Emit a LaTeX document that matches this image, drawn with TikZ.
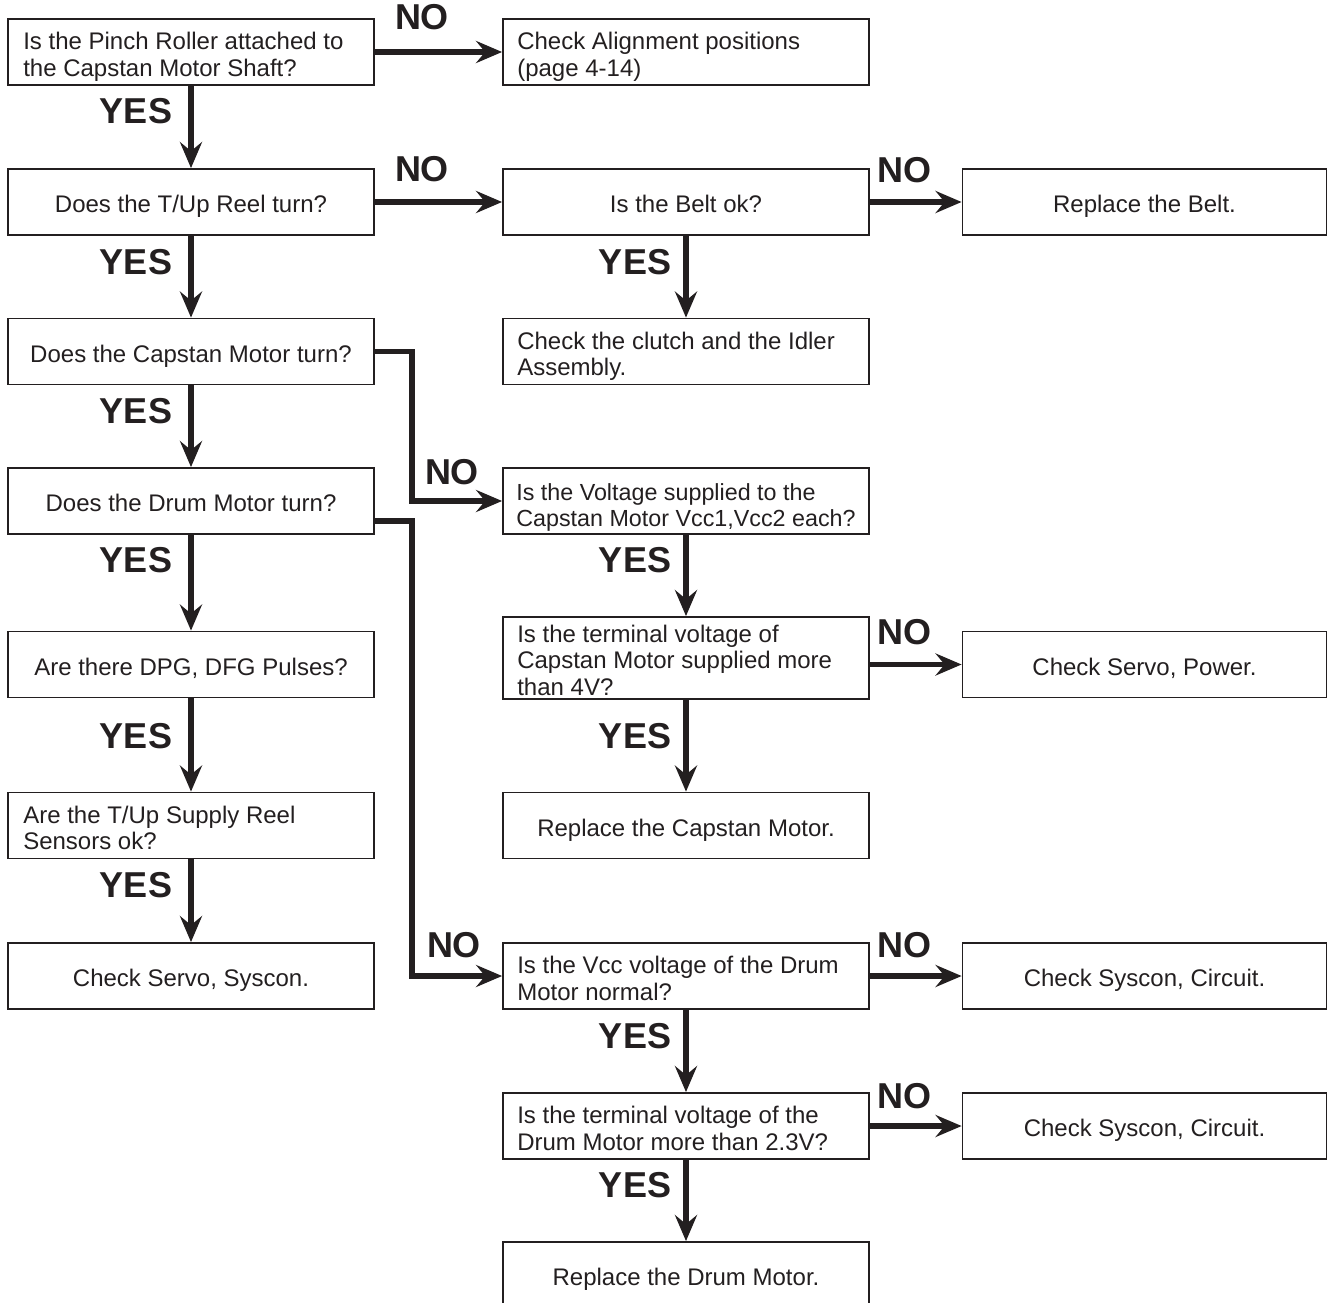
\documentclass[tikz,border=0pt]{standalone}
\usepackage{fontspec}
\setmainfont{Liberation Sans}
\usetikzlibrary{arrows.meta}
\definecolor{ink}{RGB}{35,31,32}
\begin{document}
\begin{tikzpicture}[x=1pt,y=-1pt,
  box/.style={draw=ink, line width=1.8pt, rectangle, minimum width=366pt, minimum height=66pt, inner sep=0pt},
  farbox/.style={box, minimum width=364pt},
  txt/.style={text=ink, inner sep=0pt, font=\fontsize{24}{26.5}\selectfont},
  lbl/.style={text=ink, inner sep=0pt, font=\fontsize{36}{36}\selectfont\bfseries},
  arr/.style={draw=ink, line width=5.5pt, line join=miter, -{Stealth[length=26pt,width=22pt,inset=9pt]}}]
\useasboundingbox (0,0) rectangle (1328,1302);
% left column
\node[box] (L1) at (191,52) {};
\node[box] (L2) at (191,202) {};
\node[box] (L3) at (191,351.5) {};
\node[box] (L4) at (191,501) {};
\node[box] (L5) at (191,664.5) {};
\node[box] (L6) at (191,825.5) {};
\node[box] (L7) at (191,976) {};
% right column
\node[box] (R1) at (686,52) {};
\node[box] (R2) at (686,202) {};
\node[box] (R3) at (686,351.5) {};
\node[box] (R4) at (686,501) {};
\node[box, minimum height=82pt] (R5) at (686,658) {};
\node[box] (R6) at (686,825.5) {};
\node[box] (R7) at (686,976) {};
\node[box] (R8) at (686,1126) {};
\node[box] (R9) at (686,1275) {};
% far right column
\node[farbox] (F2) at (1144.5,202) {};
\node[farbox] (F5) at (1144.5,664.5) {};
\node[farbox] (F7) at (1144.5,976) {};
\node[farbox] (F8) at (1144.5,1126) {};
% texts
\node[txt, anchor=base west] (L1t) at ([xshift=16pt,yshift=2.5pt]L1.west) {\parbox[t]{400pt}{Is the Pinch Roller attached to\\the Capstan Motor Shaft?}};
\node[txt, anchor=base] (L2t) at ([yshift=-10.5pt]L2.center) {Does the T/Up Reel turn?};
\node[txt, anchor=base] (L3t) at ([yshift=-10.5pt]L3.center) {Does the Capstan Motor turn?};
\node[txt, anchor=base] (L4t) at ([yshift=-10.5pt]L4.center) {Does the Drum Motor turn?};
\node[txt, anchor=base] (L5t) at ([yshift=-10.5pt]L5.center) {Are there DPG, DFG Pulses?};
\node[txt, anchor=base west] (L6t) at ([xshift=16pt,yshift=2.5pt]L6.west) {\parbox[t]{400pt}{Are the T/Up Supply Reel\\Sensors ok?}};
\node[txt, anchor=base] (L7t) at ([yshift=-10.5pt]L7.center) {Check Servo, Syscon.};
\node[txt, anchor=base west] (R1t) at ([xshift=15pt,yshift=2.5pt]R1.west) {\parbox[t]{400pt}{Check Alignment positions\\(page 4-14)}};
\node[txt, anchor=base] (R2t) at ([yshift=-10.5pt]R2.center) {Is the Belt ok?};
\node[txt, anchor=base west] (R3t) at ([xshift=15pt,yshift=2.5pt]R3.west) {\parbox[t]{400pt}{Check the clutch and the Idler\\Assembly.}};
\node[txt, anchor=base west, font=\fontsize{23.3}{26.5}\selectfont] (R4t) at ([xshift=14pt,yshift=1pt]R4.west) {\parbox[t]{400pt}{Is the Voltage supplied to the\\Capstan Motor Vcc1,Vcc2 each?}};
\node[txt, anchor=base west] (R5t) at ([xshift=15pt,yshift=16pt]R5.west) {\parbox[t]{400pt}{Is the terminal voltage of\\Capstan Motor supplied more\\than 4V?}};
\node[txt, anchor=base] (R6t) at ([yshift=-10.5pt]R6.center) {Replace the Capstan Motor.};
\node[txt, anchor=base west] (R7t) at ([xshift=15pt,yshift=2.5pt]R7.west) {\parbox[t]{400pt}{Is the Vcc voltage of the Drum\\Motor normal?}};
\node[txt, anchor=base west] (R8t) at ([xshift=15pt,yshift=2.5pt]R8.west) {\parbox[t]{400pt}{Is the terminal voltage of the\\Drum Motor more than 2.3V?}};
\node[txt, anchor=base] (R9t) at ([yshift=-10.5pt]R9.center) {Replace the Drum Motor.};
\node[txt, anchor=base] (F2t) at ([yshift=-10.5pt]F2.center) {Replace the Belt.};
\node[txt, anchor=base] (F5t) at ([yshift=-10.5pt]F5.center) {Check Servo, Power.};
\node[txt, anchor=base] (F7t) at ([yshift=-10.5pt]F7.center) {Check Syscon, Circuit.};
\node[txt, anchor=base] (F8t) at ([yshift=-10.5pt]F8.center) {Check Syscon, Circuit.};
% bus coordinate
\coordinate (busx) at (412,0);
% connectors
\draw[arr] (L1) -- (R1);
\draw[arr] (L1) -- (L2);
\draw[arr] (L2) -- (R2);
\draw[arr] (R2) -- (F2);
\draw[arr] (R2) -- (R3);
\draw[arr] (L2) -- (L3);
\draw[arr] (L3.east) -| (busx |- R4.west) -- (R4.west);
\draw[arr] (L3) -- (L4);
\draw[arr] ([yshift=-20pt]L4.east) -| (busx |- R7.west) -- (R7.west);
\draw[arr] (L4) -- (L5);
\draw[arr] (L5) -- (L6);
\draw[arr] (L6) -- (L7);
\draw[arr] (R4) -- (R5);
\draw[arr] (R5.east |- F5.west) -- (F5.west);
\draw[arr] (R5) -- (R6);
\draw[arr] (R7) -- (F7);
\draw[arr] (R7) -- (R8);
\draw[arr] (R8) -- (F8);
\draw[arr] (R8) -- (R9);
% labels
\node[lbl] (n1) at (422,17) {NO};
\node[lbl] (n2) at (422,169) {NO};
\node[lbl] (n3) at (904,170) {NO};
\node[lbl] (n4) at (452,472) {NO};
\node[lbl] (n5) at (904,632) {NO};
\node[lbl] (n6) at (454,945) {NO};
\node[lbl] (n7) at (904,945) {NO};
\node[lbl] (n8) at (904,1096) {NO};
\node[lbl] (y1) at (136,111) {YES};
\node[lbl] (y2) at (136,262) {YES};
\node[lbl] (y3) at (136,411) {YES};
\node[lbl] (y4) at (136,560) {YES};
\node[lbl] (y5) at (136,736) {YES};
\node[lbl] (y6) at (136,885) {YES};
\node[lbl] (y7) at (635,262) {YES};
\node[lbl] (y8) at (635,560) {YES};
\node[lbl] (y9) at (635,736) {YES};
\node[lbl] (y10) at (635,1036) {YES};
\node[lbl] (y11) at (635,1185) {YES};
\end{tikzpicture}
\end{document}
